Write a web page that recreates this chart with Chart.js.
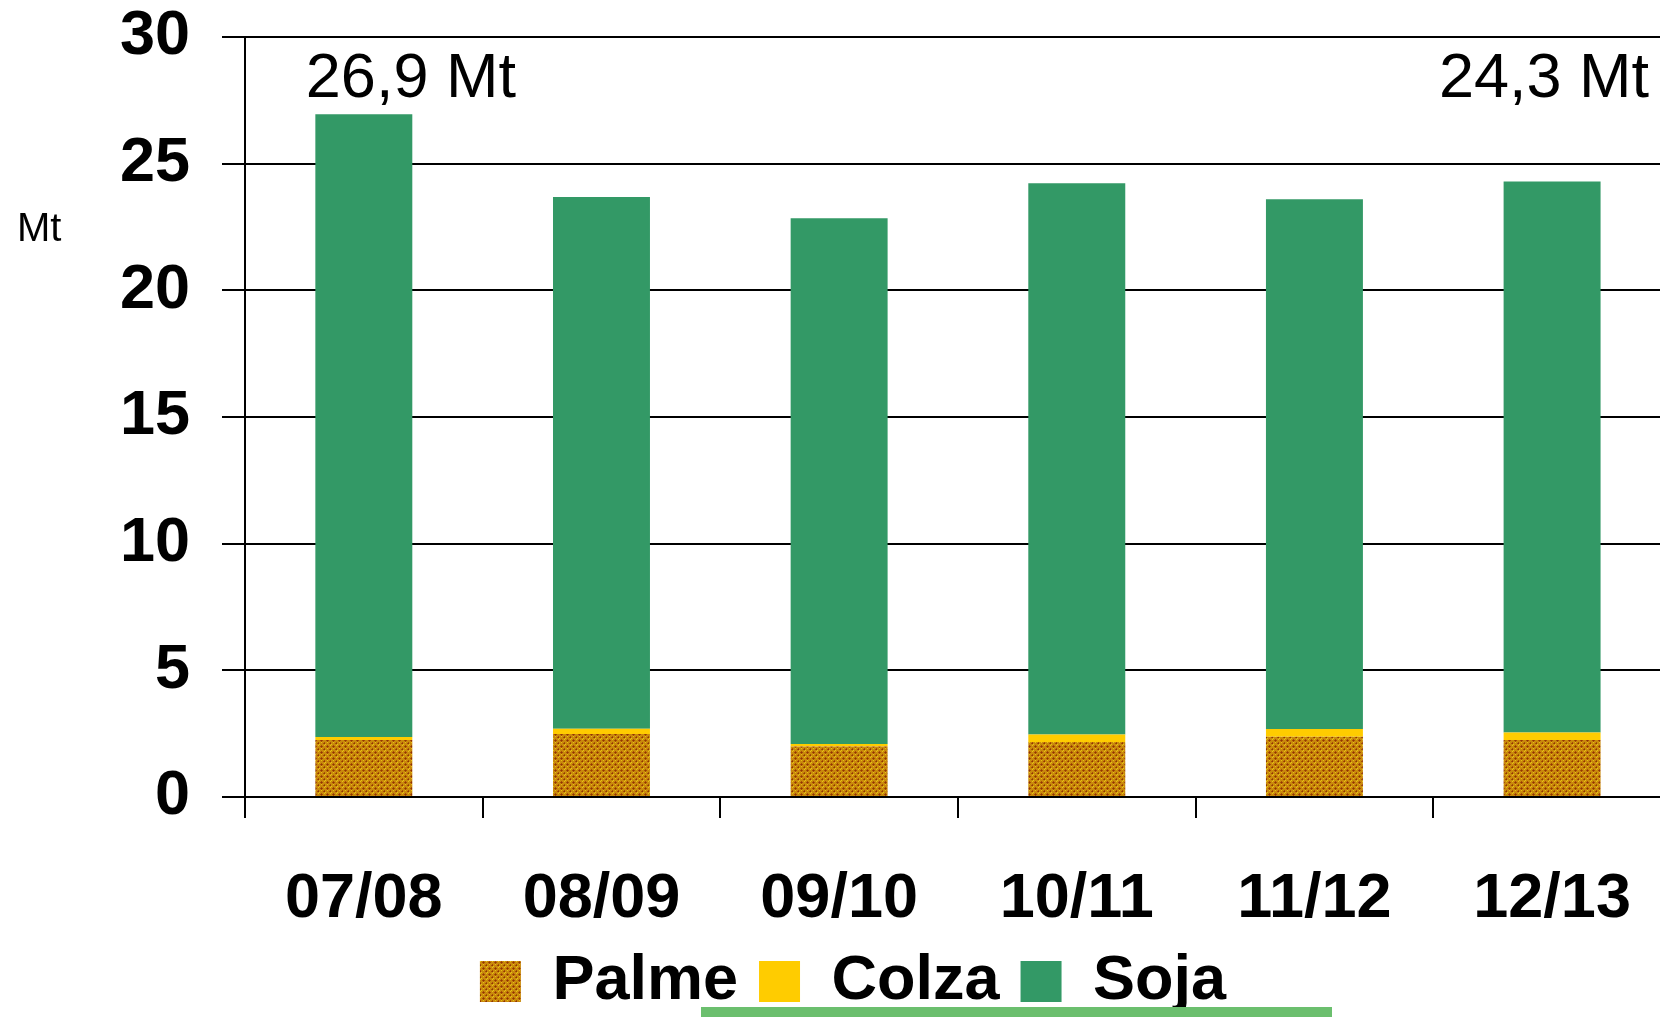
<!DOCTYPE html>
<html>
<head>
<meta charset="utf-8">
<script src="https://cdn.jsdelivr.net/npm/chart.js@4"></script>
<style>
  html,body{margin:0;padding:0;background:#fff;overflow:hidden;width:1660px;height:1017px;}
  #wrap{position:relative;width:1675px;height:1023px;}
  #bas{position:absolute;left:701px;top:1007px;width:631px;height:10px;background:#6bbf6e;}
</style>
</head>
<body>
<div id="wrap">
  <canvas id="chartHuiles" width="1675" height="1023"></canvas>
  <div id="bas"></div>
</div>
<script>
  // campagnes et volumes (Mt)
  const campagnes=['07/08','08/09','09/10','10/11','11/12','12/13'];
  const palme=[2.25,2.49,1.99,2.17,2.38,2.25];
  const colza=[0.12,0.20,0.10,0.30,0.30,0.30];
  const soja=[24.58,20.99,20.76,21.76,20.92,21.75];
  const totaux=['26,9 Mt','','','','','24,3 Mt'];
  const yTicks=[0,5,10,15,20,25,30];

  // motif quadrillé pour la palme
  function motifPalme(){
    const c=document.createElement('canvas');
    c.width=6;c.height=6;
    const g=c.getContext('2d');
    g.fillStyle='#c98a0c';g.fillRect(0,0,6,6);
    g.fillStyle='#a84c05';
    g.fillRect(3,1,1,3);g.fillRect(2,2,3,1);
    g.fillRect(0,4,1,3);g.fillRect(5,5,2,1);g.fillRect(0,5,1,1);
    g.fillStyle='#e8c414';
    g.fillRect(0,1,1,1);g.fillRect(3,4,1,1);g.fillRect(1,0,1,1);
    g.fillStyle='#8e3602';
    g.fillRect(3,2,1,1);g.fillRect(0,5,1,1);
    return g.createPattern(c,'repeat');
  }

  const police='"Liberation Sans", Arial, sans-serif';

  // libellés : "Mt" et totaux au-dessus des barres
  const textes={
    id:'textes',
    afterDraw(chart){
      const ctx=chart.ctx, y=chart.scales.y;
      ctx.save();
      ctx.fillStyle='#000';
      ctx.textBaseline='middle';
      ctx.font='40px '+police;
      ctx.textAlign='left';
      ctx.fillText('Mt',17,y.getPixelForValue(22.4));
      const meta=chart.getDatasetMeta(2);
      ctx.font='63px '+police;
      totaux.forEach((t,i)=>{
        if(!t) return;
        const bar=meta.data[i];
        if(i===0){ctx.textAlign='left';ctx.fillText(t,bar.x-58,y.getPixelForValue(28.3));}
        else{ctx.textAlign='right';ctx.fillText(t,bar.x+97,y.getPixelForValue(28.3));}
      });
      ctx.restore();
    }
  };

  const commun={categoryPercentage:1,barPercentage:0.408,borderWidth:0};
  new Chart(document.getElementById('chartHuiles'),{
    type:'bar',
    data:{
      labels:campagnes,
      datasets:[
        {label:'Palme',data:palme,backgroundColor:motifPalme(),...commun},
        {label:'Colza',data:colza,backgroundColor:'#ffcc00',...commun},
        {label:'Soja',data:soja,backgroundColor:'#339966',...commun}
      ]
    },
    options:{
      responsive:false,
      animation:false,
      layout:{padding:{left:32,top:37,right:1,bottom:0}},
      plugins:{
        legend:{
          position:'bottom',
          labels:{boxWidth:41,boxHeight:41,padding:21,color:'#000',font:{family:police,size:63,weight:'bold'}}
        },
        tooltip:{enabled:false}
      },
      scales:{
        x:{
          stacked:true,
          grid:{drawOnChartArea:false,drawTicks:true,tickLength:21,color:'#000',lineWidth:2,offset:true},
          border:{color:'#000',width:2},
          ticks:{color:'#000',padding:44,font:{family:police,size:63,weight:'bold'}},
          afterFit(s){s.height=132;}
        },
        y:{
          stacked:true,min:0,max:30,
          afterBuildTicks(s){s.ticks=yTicks.map(v=>({value:v}));},
          grid:{color:'#000',lineWidth:2,tickLength:23},
          border:{color:'#000',width:2},
          ticks:{color:'#000',padding:32,font:{family:police,size:63,weight:'bold',lineHeight:1}},
          afterFit(s){s.width=213;s.paddingTop=0;s.paddingBottom=0;}
        }
      }
    },
    plugins:[textes]
  });
</script>
</body>
</html>
